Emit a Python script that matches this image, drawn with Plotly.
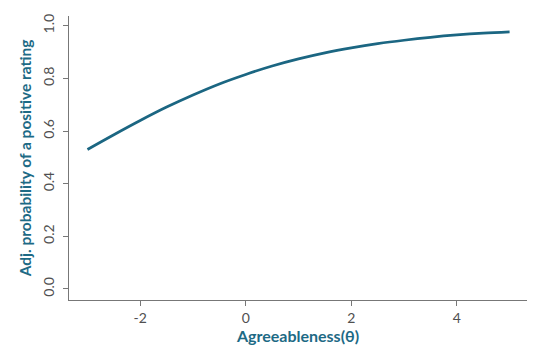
import plotly.graph_objects as go

agree = [-3, -2.5, -2, -1.5, -1, -0.5, 0, 0.5, 1, 1.5, 2, 2.5, 3, 3.5, 4, 4.5, 5]
prob = [0.530, 0.586, 0.640, 0.691, 0.737, 0.779, 0.815, 0.847, 0.874, 0.897,
        0.916, 0.932, 0.945, 0.956, 0.965, 0.972, 0.977]

xticks = [-2, 0, 2, 4]
xtick_labels = ["-2", "0", "2", "4"]
yticks = [0.0, 0.2, 0.4, 0.6, 0.8, 1.0]
ytick_labels = ["0.0", "0.2", "0.4", "0.6", "0.8", "1.0"]

line_color = "#1b6682"
title_color = "#1d6a85"

fig = go.Figure()
fig.add_trace(go.Scatter(x=agree, y=prob, mode="lines", line=dict(color=line_color, width=2.7, shape="spline"),
                         showlegend=False, hoverinfo="skip"))

fig.update_layout(
    width=545, height=361,
    margin=dict(l=61, r=26, t=8, b=69),
    paper_bgcolor="white", plot_bgcolor="white",
    font=dict(family="Lato, DejaVu Sans, sans-serif", color="#555555", size=12),
)
fig.update_xaxes(
    range=[-3.35, 5.33], tickvals=xticks, ticktext=xtick_labels, ticks="outside", ticklen=5, tickcolor="#777777",
    showline=True, linecolor="#777777", linewidth=1, showgrid=False, zeroline=False,
    tickfont=dict(size=14, color="#505050"), automargin=False,
    title=dict(text="<b>Agreeableness(θ)</b>", font=dict(size=16, color=title_color), standoff=6),
)
fig.update_yaxes(
    range=[-0.042, 1.037], tickvals=yticks, ticktext=ytick_labels, tickangle=-90,
    ticks="outside", ticklen=5, tickcolor="#777777", ticklabelstandoff=3,
    showline=True, linecolor="#777777", linewidth=1, showgrid=False, zeroline=False,
    tickfont=dict(size=14, color="#505050"), automargin=False,
    title=dict(text="<b>Adj. probability of a positive rating</b>", font=dict(size=15.5, color=title_color), standoff=4),
)

fig.write_html("out.html")
